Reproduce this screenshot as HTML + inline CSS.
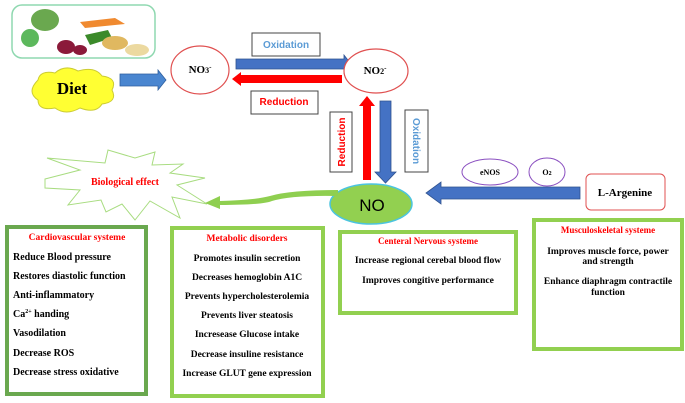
<!DOCTYPE html>
<html><head><meta charset="utf-8"><style>
body{margin:0;background:#fff;}
svg{display:block;font-family:"Liberation Serif",serif;font-weight:bold;}
</style></head><body>
<svg width="685" height="403" viewBox="0 0 685 403">
<rect x="12" y="5" width="143" height="53" rx="10" fill="#fff" stroke="#8fd8b0" stroke-width="1.5"/>
<ellipse cx="45" cy="20" rx="14" ry="11" fill="#6aa84f"/>
<ellipse cx="30" cy="38" rx="9" ry="9" fill="#5cb85c"/>
<path d="M80 22 L115 18 L125 24 L85 28Z" fill="#f08a30"/>
<ellipse cx="66" cy="47" rx="9" ry="7" fill="#8b1a3a"/>
<ellipse cx="80" cy="50" rx="7" ry="5" fill="#8b1a3a"/>
<path d="M85 35 L108 30 L112 38 L90 45Z" fill="#3b8a2a"/>
<ellipse cx="115" cy="43" rx="13" ry="7" fill="#e0b860"/>
<ellipse cx="137" cy="50" rx="12" ry="6" fill="#ecd9a0"/>
<path d="M38 80 Q40 70 55 73 Q65 64 78 71 Q95 66 102 76 Q118 78 112 90 Q118 102 102 104 Q96 114 80 108 Q66 116 55 108 Q38 111 38 100 Q26 92 38 80Z" fill="#ffff33" stroke="#cccc33" stroke-width="1"/>
<text x="72" y="94" font-size="17" text-anchor="middle" fill="#000">Diet</text>
<path d="M120 74 L158 74 L158 70 L166 80 L158 90 L158 86 L120 86Z" fill="#4a86d0" stroke="#2f5f9e" stroke-width="0.8"/>
<ellipse cx="200" cy="70" rx="29" ry="24" fill="#fff" stroke="#e05050" stroke-width="1.2"/>
<text x="200" y="73" font-size="11" text-anchor="middle">NO<tspan font-size="8">3</tspan><tspan font-size="7" dy="-4">-</tspan></text>
<rect x="252" y="33" width="68" height="23" fill="#fff" stroke="#444"/>
<text x="286" y="48" font-size="10" text-anchor="middle" fill="#5b9bd5" font-family="Liberation Sans,sans-serif">Oxidation</text>
<path d="M236 59 L344 59 L344 55 L351 64 L344 73 L344 69 L236 69Z" fill="#4472c4" stroke="#2f528f" stroke-width="0.8"/>
<path d="M342 75 L241 75 L241 72 L232 79 L241 86 L241 83 L342 83Z" fill="#ff0000"/>
<rect x="251" y="91" width="67" height="23" fill="#fff" stroke="#444"/>
<text x="284" y="105" font-size="10" text-anchor="middle" fill="#ff0000" font-family="Liberation Sans,sans-serif">Reduction</text>
<ellipse cx="376" cy="71" rx="32" ry="22" fill="#fff" stroke="#e05050" stroke-width="1.2"/>
<text x="375" y="74" font-size="11" text-anchor="middle">NO<tspan font-size="8">2</tspan><tspan font-size="7" dy="-4">-</tspan></text>
<path d="M363 180 L363 106 L359 106 L367 96 L375 106 L371 106 L371 180Z" fill="#ff0000"/>
<path d="M380 101 L391 101 L391 172 L396 172 L385.5 183 L375 172 L380 172Z" fill="#4472c4" stroke="#2f528f" stroke-width="0.8"/>
<rect x="330" y="112" width="22" height="60" fill="#fff" stroke="#444"/>
<text transform="translate(345,142) rotate(-90)" font-size="10" text-anchor="middle" fill="#ff0000" font-family="Liberation Sans,sans-serif">Reduction</text>
<rect x="405" y="110" width="23" height="62" fill="#fff" stroke="#444"/>
<text transform="translate(413,141) rotate(90)" font-size="10" text-anchor="middle" fill="#5b9bd5" font-family="Liberation Sans,sans-serif">Oxidation</text>
<ellipse cx="371" cy="204" rx="41" ry="20" fill="#92d050" stroke="#4bc4e0" stroke-width="1.5"/>
<text x="372" y="211" font-size="17" text-anchor="middle" font-weight="normal" font-family="Liberation Sans,sans-serif">NO</text>
<path d="M580 187 L441 187 L441 182 L426 193 L441 204 L441 199 L580 199Z" fill="#4472c4" stroke="#2f528f" stroke-width="0.8"/>
<ellipse cx="490" cy="172" rx="28" ry="13" fill="#fff" stroke="#8a4fc0"/>
<text x="490" y="175" font-size="8" text-anchor="middle">eNOS</text>
<ellipse cx="547" cy="172" rx="18" ry="14" fill="#fff" stroke="#8a4fc0"/>
<text x="547" y="175" font-size="8" text-anchor="middle">O<tspan font-size="6">2</tspan></text>
<rect x="586" y="174" width="79" height="36" rx="5" fill="#fff" stroke="#e05050"/>
<text x="625" y="196" font-size="11" text-anchor="middle">L-Argenine</text>
<polygon points="45,179 80,170 47,158 105,163 108,150 135,158 155,152 152,165 183,164 170,173 205,178 177,185 207,204 172,197 180,218 150,201 135,220 122,204 106,212 101,200 68,205 80,190 45,188" fill="#fff" stroke="#a8dc80" stroke-width="1"/>
<text x="125" y="185" font-size="10" text-anchor="middle" fill="#ff0000">Biological effect</text>
<path d="M338 190 Q290 190 270 196 Q255 200 220 201 L220 196 L205 203 L220 209 L220 205 Q262 205 272 201 Q292 195 338 196Z" fill="#8fcf50"/>
<rect x="7" y="227" width="139" height="167" fill="#fff" stroke="#6aa84f" stroke-width="4"/>
<g font-size="10">
<text x="77" y="240" text-anchor="middle" fill="#ff0000" font-size="9.5">Cardiovascular systeme</text>
<text x="13" y="260">Reduce Blood pressure</text>
<text x="13" y="279">Restores diastolic function</text>
<text x="13" y="298">Anti-inflammatory</text>
<text x="13" y="317">Ca<tspan font-size="6" dy="-4">2+</tspan><tspan dy="4"> handing</tspan></text>
<text x="13" y="336">Vasodilation</text>
<text x="13" y="356">Decrease ROS</text>
<text x="13" y="375">Decrease stress oxidative</text>
</g>
<rect x="172" y="228" width="151" height="168" fill="#fff" stroke="#92d050" stroke-width="4"/>
<g font-size="9.5" text-anchor="middle">
<text x="247" y="241" fill="#ff0000" font-size="9.5">Metabolic disorders</text>
<text x="247" y="261">Promotes insulin secretion</text>
<text x="247" y="280">Decreases hemoglobin A1C</text>
<text x="247" y="299">Prevents hypercholesterolemia</text>
<text x="247" y="318">Prevents liver steatosis</text>
<text x="247" y="337">Incresease Glucose intake</text>
<text x="247" y="357">Decrease insuline resistance</text>
<text x="247" y="376">Increase GLUT gene expression</text>
</g>
<rect x="340" y="232" width="176" height="81" fill="#fff" stroke="#92d050" stroke-width="4"/>
<g font-size="9.5" text-anchor="middle">
<text x="428" y="244" fill="#ff0000" font-size="9">Centeral Nervous systeme</text>
<text x="428" y="263">Increase regional cerebal blood flow</text>
<text x="428" y="283">Improves congitive performance</text>
</g>
<rect x="534" y="220" width="148" height="129" fill="#fff" stroke="#92d050" stroke-width="4"/>
<g font-size="9.5" text-anchor="middle">
<text x="608" y="233" fill="#ff0000" font-size="9">Musculoskeletal systeme</text>
<text x="608" y="254">Improves muscle force, power</text>
<text x="608" y="264">and strength</text>
<text x="608" y="284">Enhance diaphragm contractile</text>
<text x="608" y="295">function</text>
</g>
</svg>
</body></html>
